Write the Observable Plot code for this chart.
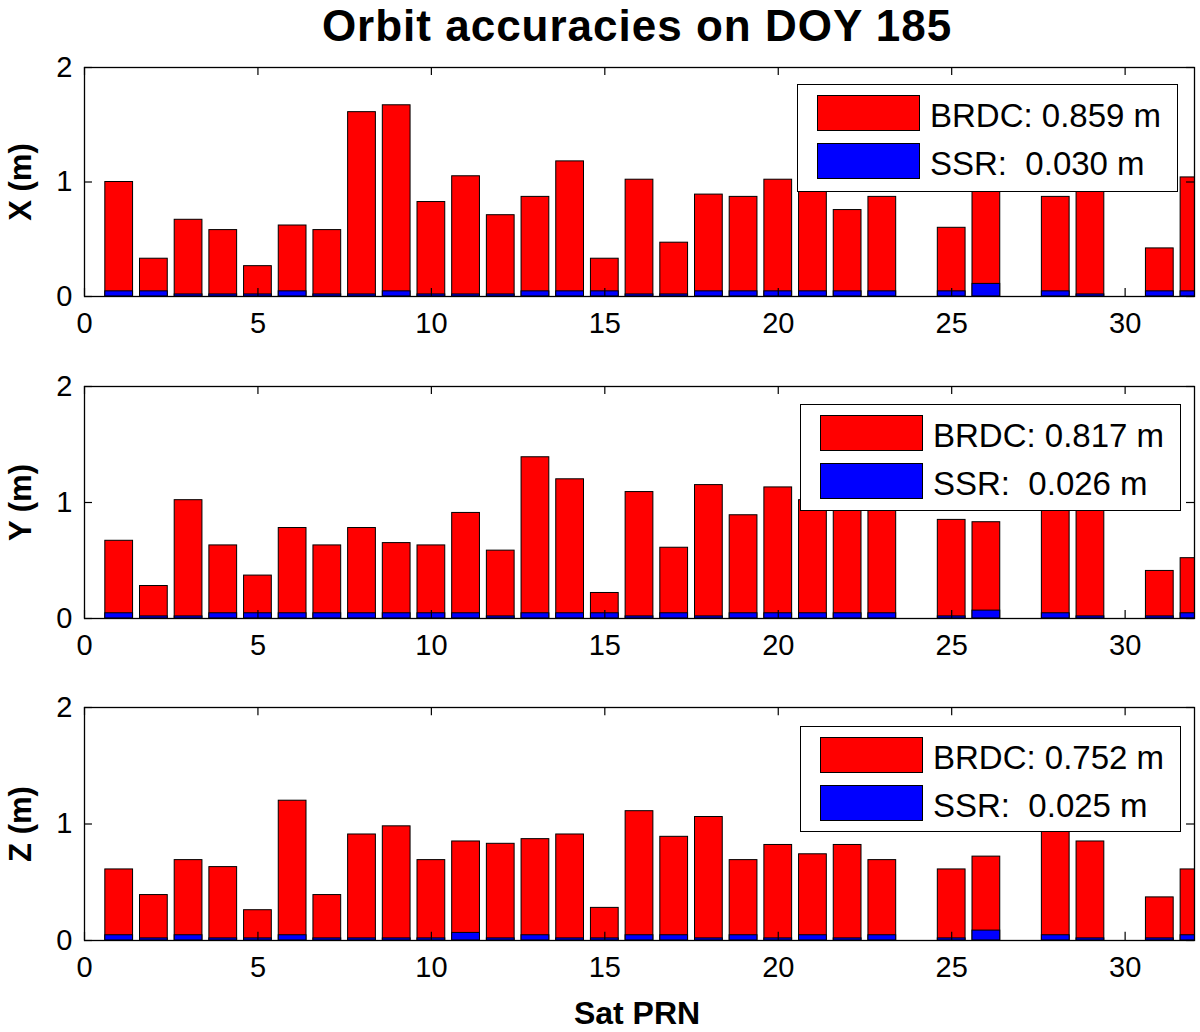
<!DOCTYPE html>
<html>
<head>
<meta charset="utf-8">
<script src="https://cdn.jsdelivr.net/npm/d3@7"></script>
<script src="https://cdn.jsdelivr.net/npm/@observablehq/plot@0.6"></script>
<style>
  body { margin: 0; background: #fff; font-family: "Liberation Sans", Arial, Helvetica, sans-serif; }
  #root { position: relative; width: 1200px; height: 1032px; overflow: hidden; background: #fff; }
  .title { position: absolute; left: 0; width: 1274px; top: 4px; text-align: center; font-weight: bold; font-size: 44px; line-height: 44px; letter-spacing: 1px; color: #000; }
  .xlabel { position: absolute; left: 0; width: 1274px; top: 997px; text-align: center; font-weight: bold; font-size: 32px; line-height: 32px; color: #000; }
  .panel { position: absolute; left: 0; }
  .panel svg { overflow: visible; }
  .panel g[aria-label="y-axis label"] text { font-weight: bold; font-size: 31px; }
  .legend { position: absolute; border: 1.3px solid #000; background: #fff; box-sizing: border-box; }
  .sw { position: absolute; left: 19px; width: 103px; height: 36px; border: 1px solid #000; box-sizing: border-box; }
  .lt { position: absolute; left: 132px; font-size: 33px; line-height: 36px; white-space: pre; color: #000; }
</style>
</head>
<body>
<div id="root">
  <div class="title">Orbit accuracies on DOY 185</div>
  <div class="xlabel">Sat PRN</div>
</div>
<script>
// Satellite PRNs present
const prn = [1,2,3,4,5,6,7,8,9,10,11,12,13,14,15,16,17,18,19,20,21,22,23,25,26,28,29,31,32];

// X component (m)
const brdcX = [1.00,0.33,0.67,0.58,0.265,0.62,0.58,1.61,1.67,0.825,1.05,0.71,0.87,1.18,0.33,1.02,
               0.47,0.89,0.87,1.02,1.10,0.755,0.87, 0.60,1.20,0.87,1.00,0.42,1.04];
const ssrX  = [0.045,0.045,0.018,0.018,0.018,0.045,0.018,0.018,0.045,0.018,0.018,0.018,0.045,0.045,0.045,0.018,
               0.018,0.045,0.045,0.045,0.045,0.045,0.045, 0.045,0.11,0.045,0.018,0.045,0.045];

// Y component (m)
const brdcY = [0.67,0.28,1.02,0.63,0.37,0.78,0.63,0.78,0.65,0.63,0.91,0.585,1.39,1.20,0.22,1.09,
               0.61,1.15,0.89,1.13,1.02,0.98,0.96, 0.85,0.83,1.00,0.97,0.41,0.52];
const ssrY  = [0.045,0.018,0.018,0.045,0.045,0.045,0.045,0.045,0.045,0.045,0.045,0.018,0.045,0.045,0.045,0.018,
               0.045,0.018,0.045,0.045,0.045,0.045,0.045, 0.018,0.068,0.045,0.018,0.018,0.045];

// Z component (m)
const brdcZ = [0.61,0.39,0.69,0.63,0.26,1.20,0.39,0.91,0.98,0.69,0.85,0.83,0.87,0.91,0.28,1.11,
               0.89,1.06,0.69,0.82,0.74,0.82,0.69, 0.61,0.72,0.97,0.85,0.37,0.61];
const ssrZ  = [0.045,0.018,0.045,0.018,0.018,0.045,0.018,0.018,0.018,0.018,0.065,0.018,0.045,0.018,0.018,0.045,
               0.045,0.018,0.045,0.018,0.045,0.018,0.045, 0.018,0.085,0.045,0.018,0.018,0.045];

// Legend texts
const seriesNames = ["BRDC", "SSR"];
const legendX = ["BRDC: 0.859 m", "SSR:  0.030 m"];
const legendY = ["BRDC: 0.817 m", "SSR:  0.026 m"];
const legendZ = ["BRDC: 0.752 m", "SSR:  0.025 m"];
const axisLabels = ["X (m)", "Y (m)", "Z (m)"];

// Ticks
const xTicks = [0, 5, 10, 15, 20, 25, 30];
const yTicks = [0, 1, 2];

const colors = {BRDC: "#ff0000", SSR: "#0000ff"};
const root = document.getElementById("root");

function panel(brdc, ssr, label, legendTexts, T, B, legendBox) {
  const data = prn.map((p, i) => ({prn: p, brdc: brdc[i], ssr: ssr[i]}));
  const mt = 30, mb = 50;
  const plot = Plot.plot({
    width: 1200,
    height: (B - T) + mt + mb,
    marginLeft: 84, marginRight: 6, marginTop: mt, marginBottom: mb,
    style: {fontFamily: "'Liberation Sans', Arial, Helvetica, sans-serif", fontSize: "29px", color: "#000", background: "transparent", overflow: "visible"},
    x: {domain: [0, 32], ticks: xTicks, tickSize: 0, tickPadding: 16, label: null, tickFormat: d => String(d)},
    y: {domain: [0, 2], ticks: yTicks, tickSize: 0, tickPadding: 12, label: label, labelAnchor: "center", labelArrow: "none", labelOffset: 76, tickFormat: d => String(d)},
    marks: [
      Plot.rectY(data, {x1: d => d.prn - 0.4, x2: d => d.prn + 0.4, y1: 0, y2: "brdc", fill: colors.BRDC, stroke: "#000", strokeWidth: 1, clip: true}),
      Plot.rectY(data, {x1: d => d.prn - 0.4, x2: d => d.prn + 0.4, y1: 0, y2: "ssr", fill: colors.SSR, stroke: "#000", strokeWidth: 1, clip: true}),
      Plot.ruleX(xTicks, {x: d => d, y1: 0, y2: 0.07, stroke: "#000", strokeWidth: 1.2}),
      Plot.ruleX(xTicks, {x: d => d, y1: 1.93, y2: 2, stroke: "#000", strokeWidth: 1.2}),
      Plot.ruleY(yTicks, {y: d => d, x1: 0, x2: 0.23, stroke: "#000", strokeWidth: 1.2}),
      Plot.ruleY(yTicks, {y: d => d, x1: 31.77, x2: 32, stroke: "#000", strokeWidth: 1.2}),
      Plot.frame({stroke: "#000", strokeWidth: 1.3})
    ]
  });
  const wrap = document.createElement("div");
  wrap.className = "panel";
  wrap.style.top = (T - mt) + "px";
  wrap.appendChild(plot);
  root.appendChild(wrap);

  const lg = document.createElement("div");
  lg.className = "legend";
  lg.style.left = legendBox[0] + "px";
  lg.style.top = legendBox[1] + "px";
  lg.style.width = legendBox[2] + "px";
  lg.style.height = legendBox[3] + "px";
  seriesNames.forEach((s, i) => {
    const sw = document.createElement("div");
    sw.className = "sw";
    sw.style.top = (10 + i * 48) + "px";
    sw.style.background = colors[s];
    lg.appendChild(sw);
    const t = document.createElement("div");
    t.className = "lt";
    t.style.top = (10 + i * 48 + 3) + "px";
    t.textContent = legendTexts[i];
    lg.appendChild(t);
  });
  root.appendChild(lg);
}

panel(brdcX, ssrX, axisLabels[0], legendX, 67, 296, [797, 84, 381, 108]);
panel(brdcY, ssrY, axisLabels[1], legendY, 386, 618, [800, 404, 381, 107]);
panel(brdcZ, ssrZ, axisLabels[2], legendZ, 707, 940, [800, 726, 381, 106]);
</script>
</body>
</html>
